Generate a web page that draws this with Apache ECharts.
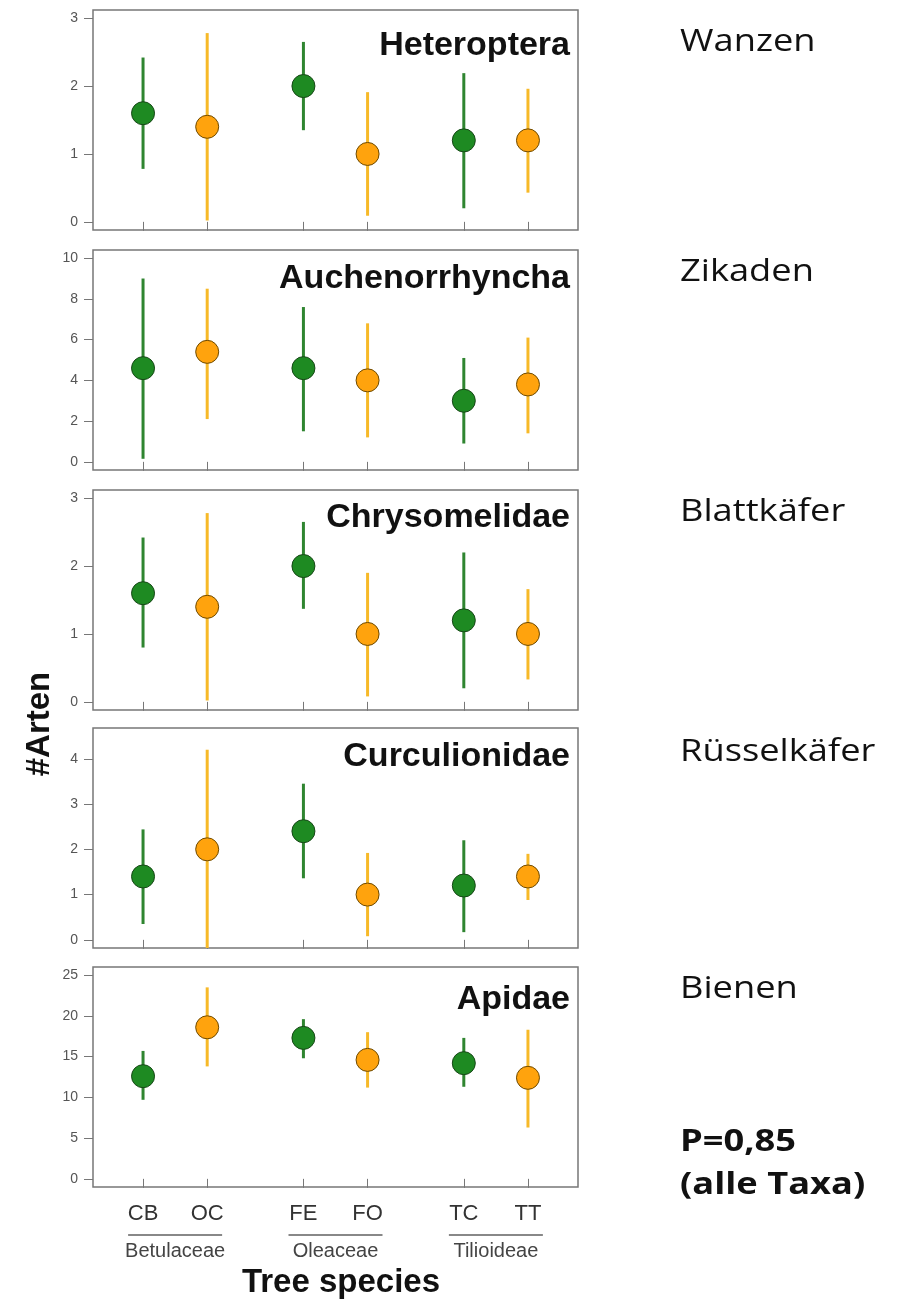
<!DOCTYPE html>
<html>
<head>
<meta charset="utf-8">
<script src="https://cdn.jsdelivr.net/npm/echarts@6/dist/echarts.min.js"></script>
<style>
  html, body { margin: 0; padding: 0; background: #fff; }
  #chart { width: 902px; height: 1301px; }
</style>
</head>
<body>
<div id="chart"></div>
<script>
// ---- data ----
const species = ['CB', 'OC', 'FE', 'FO', 'TC', 'TT'];
const speciesPos = [1, 2, 3.5, 4.5, 6, 7];
const families = ['Betulaceae', 'Oleaceae', 'Tilioideae'];
const familyCenter = [1.5, 4, 6.5];

const taxa = ['Heteroptera', 'Auchenorrhyncha', 'Chrysomelidae', 'Curculionidae', 'Apidae'];
const taxaGerman = ['Wanzen', 'Zikaden', 'Blattkäfer', 'Rüsselkäfer', 'Bienen'];
const pValueText = ['P=0,85', '(alle Taxa)'];

// mean, lower and upper limit per tree species (CB, OC, FE, FO, TC, TT)
const heteropteraMean  = [1.6, 1.4, 2.0, 1.0, 1.2, 1.2];
const heteropteraLow   = [0.78, 0.02, 1.35, 0.09, 0.2, 0.43];
const heteropteraHigh  = [2.42, 2.78, 2.65, 1.91, 2.19, 1.96];

const auchenoMean = [4.6, 5.4, 4.6, 4.0, 3.0, 3.8];
const auchenoLow  = [0.15, 2.1, 1.5, 1.2, 0.9, 1.4];
const auchenoHigh = [9.0, 8.5, 7.6, 6.8, 5.1, 6.1];

const chrysoMean = [1.6, 1.4, 2.0, 1.0, 1.2, 1.0];
const chrysoLow  = [0.8, 0.02, 1.37, 0.08, 0.2, 0.33];
const chrysoHigh = [2.42, 2.78, 2.65, 1.9, 2.2, 1.66];

const curcuMean = [1.4, 2.0, 2.4, 1.0, 1.2, 1.4];
const curcuLow  = [0.35, -0.18, 1.36, 0.08, 0.17, 0.88];
const curcuHigh = [2.44, 4.2, 3.45, 1.92, 2.2, 1.9];

const apidaeMean = [12.6, 18.6, 17.3, 14.6, 14.2, 12.4];
const apidaeLow  = [9.7, 13.8, 14.8, 11.2, 11.3, 6.3];
const apidaeHigh = [15.7, 23.5, 19.6, 18.0, 17.3, 18.3];

// y-axis limits and tick labels per panel
const yLimits = [[0, 3], [0, 10], [0, 3], [0, 4.5], [0, 25]];
const yTicks = [[0, 1, 2, 3], [0, 2, 4, 6, 8, 10], [0, 1, 2, 3], [0, 1, 2, 3, 4], [0, 5, 10, 15, 20, 25]];
const xLimits = [0.5, 7.5];

const panelMeans = [heteropteraMean, auchenoMean, chrysoMean, curcuMean, apidaeMean];
const panelLows  = [heteropteraLow, auchenoLow, chrysoLow, curcuLow, apidaeLow];
const panelHighs = [heteropteraHigh, auchenoHigh, chrysoHigh, curcuHigh, apidaeHigh];

// ---- layout & style ----
const gridLeft = 93, gridWidth = 485, gridHeight = 220;
const gridTops = [10, 250, 490, 728, 967];
const titleOffsets = [36, 29, 28, 29, 33];
const boxColor = '#777';
const green = { fill: '#1e8a22', edge: '#174717', bar: '#2f8530' };
const orange = { fill: '#ffa30d', edge: '#6e4a00', bar: '#f7b928' };
const plotFont = '"Liberation Sans", Arial, sans-serif';
const slideFont = '"Open Sans", sans-serif';

// R-style 4% axis extension
function extend(lim) {
  const d = (lim[1] - lim[0]) * 0.04;
  return [lim[0] - d, lim[1] + d];
}
const xRange = extend(xLimits);

const chart = echarts.init(document.getElementById('chart'), null, { renderer: 'canvas' });

const grids = [], xAxes = [], yAxes = [], series = [];

taxa.forEach((name, i) => {
  const yr = extend(yLimits[i]);
  const isBottom = i === taxa.length - 1;
  grids.push({
    left: gridLeft, top: gridTops[i], width: gridWidth, height: gridHeight,
    show: true, borderColor: boxColor, borderWidth: 1.5, backgroundColor: '#fff'
  });
  xAxes.push({
    type: 'value', gridIndex: i, min: xRange[0], max: xRange[1],
    axisLine: { show: false }, splitLine: { show: false },
    axisTick: { show: true, customValues: speciesPos, length: 9, inside: false,
                lineStyle: { color: boxColor, width: 1 } },
    axisLabel: {
      show: isBottom, customValues: speciesPos, margin: 16,
      fontFamily: plotFont, fontSize: 22, color: '#333',
      formatter: v => species[speciesPos.indexOf(v)] || ''
    }
  });
  yAxes.push({
    type: 'value', gridIndex: i, min: yr[0], max: yr[1],
    axisLine: { show: false }, splitLine: { show: false },
    axisTick: { show: true, customValues: yTicks[i], length: 9,
                lineStyle: { color: boxColor, width: 1 } },
    axisLabel: { customValues: yTicks[i], margin: 15, fontFamily: plotFont,
                 fontSize: 14, color: '#555' }
  });

  const rows = species.map((s, k) => [speciesPos[k], panelLows[i][k], panelHighs[i][k], k % 2]);
  series.push({
    type: 'custom', name: name + ' range', xAxisIndex: i, yAxisIndex: i,
    clip: true, silent: true,
    data: rows,
    renderItem: (params, api) => {
      const x = api.value(0);
      const p1 = api.coord([x, api.value(1)]);
      const p2 = api.coord([x, api.value(2)]);
      const c = api.value(3) === 0 ? green.bar : orange.bar;
      return { type: 'line', shape: { x1: p1[0], y1: p1[1], x2: p2[0], y2: p2[1] },
               style: { stroke: c, lineWidth: 3 } };
    },
    z: 2
  });
  series.push({
    type: 'scatter', name: name, xAxisIndex: i, yAxisIndex: i,
    symbol: 'circle', symbolSize: 23, silent: true,
    data: species.map((s, k) => ({
      value: [speciesPos[k], panelMeans[i][k]],
      itemStyle: k % 2 === 0
        ? { color: green.fill, borderColor: green.edge, borderWidth: 1, opacity: 1 }
        : { color: orange.fill, borderColor: orange.edge, borderWidth: 1, opacity: 1 }
    })),
    z: 3
  });
});

// family brackets below the species labels of the bottom panel
const lastYMin = extend(yLimits[4])[0];
series.push({
  type: 'custom', name: 'families', xAxisIndex: 4, yAxisIndex: 4,
  clip: false, silent: true,
  data: families.map((f, j) => [familyCenter[j], j]),
  renderItem: (params, api) => {
    const c = api.coord([api.value(0), lastYMin]);
    const halfW = 47;
    return {
      type: 'group',
      children: [
        { type: 'line', shape: { x1: c[0] - halfW, y1: c[1] + 48, x2: c[0] + halfW, y2: c[1] + 48 },
          style: { stroke: '#888', lineWidth: 2 } },
        { type: 'text', x: c[0], y: c[1] + 64,
          style: { text: families[api.value(1)], font: '20px ' + plotFont, fill: '#444',
                   align: 'center', verticalAlign: 'middle',
                   textAlign: 'center', textVerticalAlign: 'middle' } }
      ]
    };
  }
});

// texts
const graphics = [];
taxa.forEach((name, i) => {
  graphics.push({
    type: 'text', x: 570, y: gridTops[i] + titleOffsets[i],
    style: { text: name, font: 'bold 34px ' + plotFont, fill: '#111',
             align: 'right', verticalAlign: 'middle', textAlign: 'right', textVerticalAlign: 'middle' },
    z: 10
  });
});
const germanY = [42, 272, 512, 752, 989];
taxaGerman.forEach((t, i) => {
  graphics.push({
    type: 'text', x: 680, y: germanY[i], scaleX: 1.17,
    style: { text: t, font: '31px ' + slideFont, fill: '#111',
             align: 'left', verticalAlign: 'middle', textAlign: 'left', textVerticalAlign: 'middle' }
  });
});
[1142, 1185].forEach((y, j) => {
  graphics.push({
    type: 'text', x: 680, y: y, scaleX: 1.17,
    style: { text: pValueText[j], font: 'bold 31px ' + slideFont, fill: '#111',
             align: 'left', verticalAlign: 'middle', textAlign: 'left', textVerticalAlign: 'middle' }
  });
});
graphics.push({
  type: 'text', x: 40, y: 724, rotation: Math.PI / 2,
  style: { text: '#Arten', font: 'bold 33px ' + plotFont, fill: '#111',
           align: 'center', verticalAlign: 'middle', textAlign: 'center', textVerticalAlign: 'middle' }
});
graphics.push({
  type: 'text', x: 341, y: 1283,
  style: { text: 'Tree species', font: 'bold 33px ' + plotFont, fill: '#111',
           align: 'center', verticalAlign: 'middle', textAlign: 'center', textVerticalAlign: 'middle' }
});

chart.setOption({
  animation: false,
  backgroundColor: '#fff',
  grid: grids,
  xAxis: xAxes,
  yAxis: yAxes,
  series: series,
  graphic: { elements: graphics }
});
</script>
</body>
</html>
